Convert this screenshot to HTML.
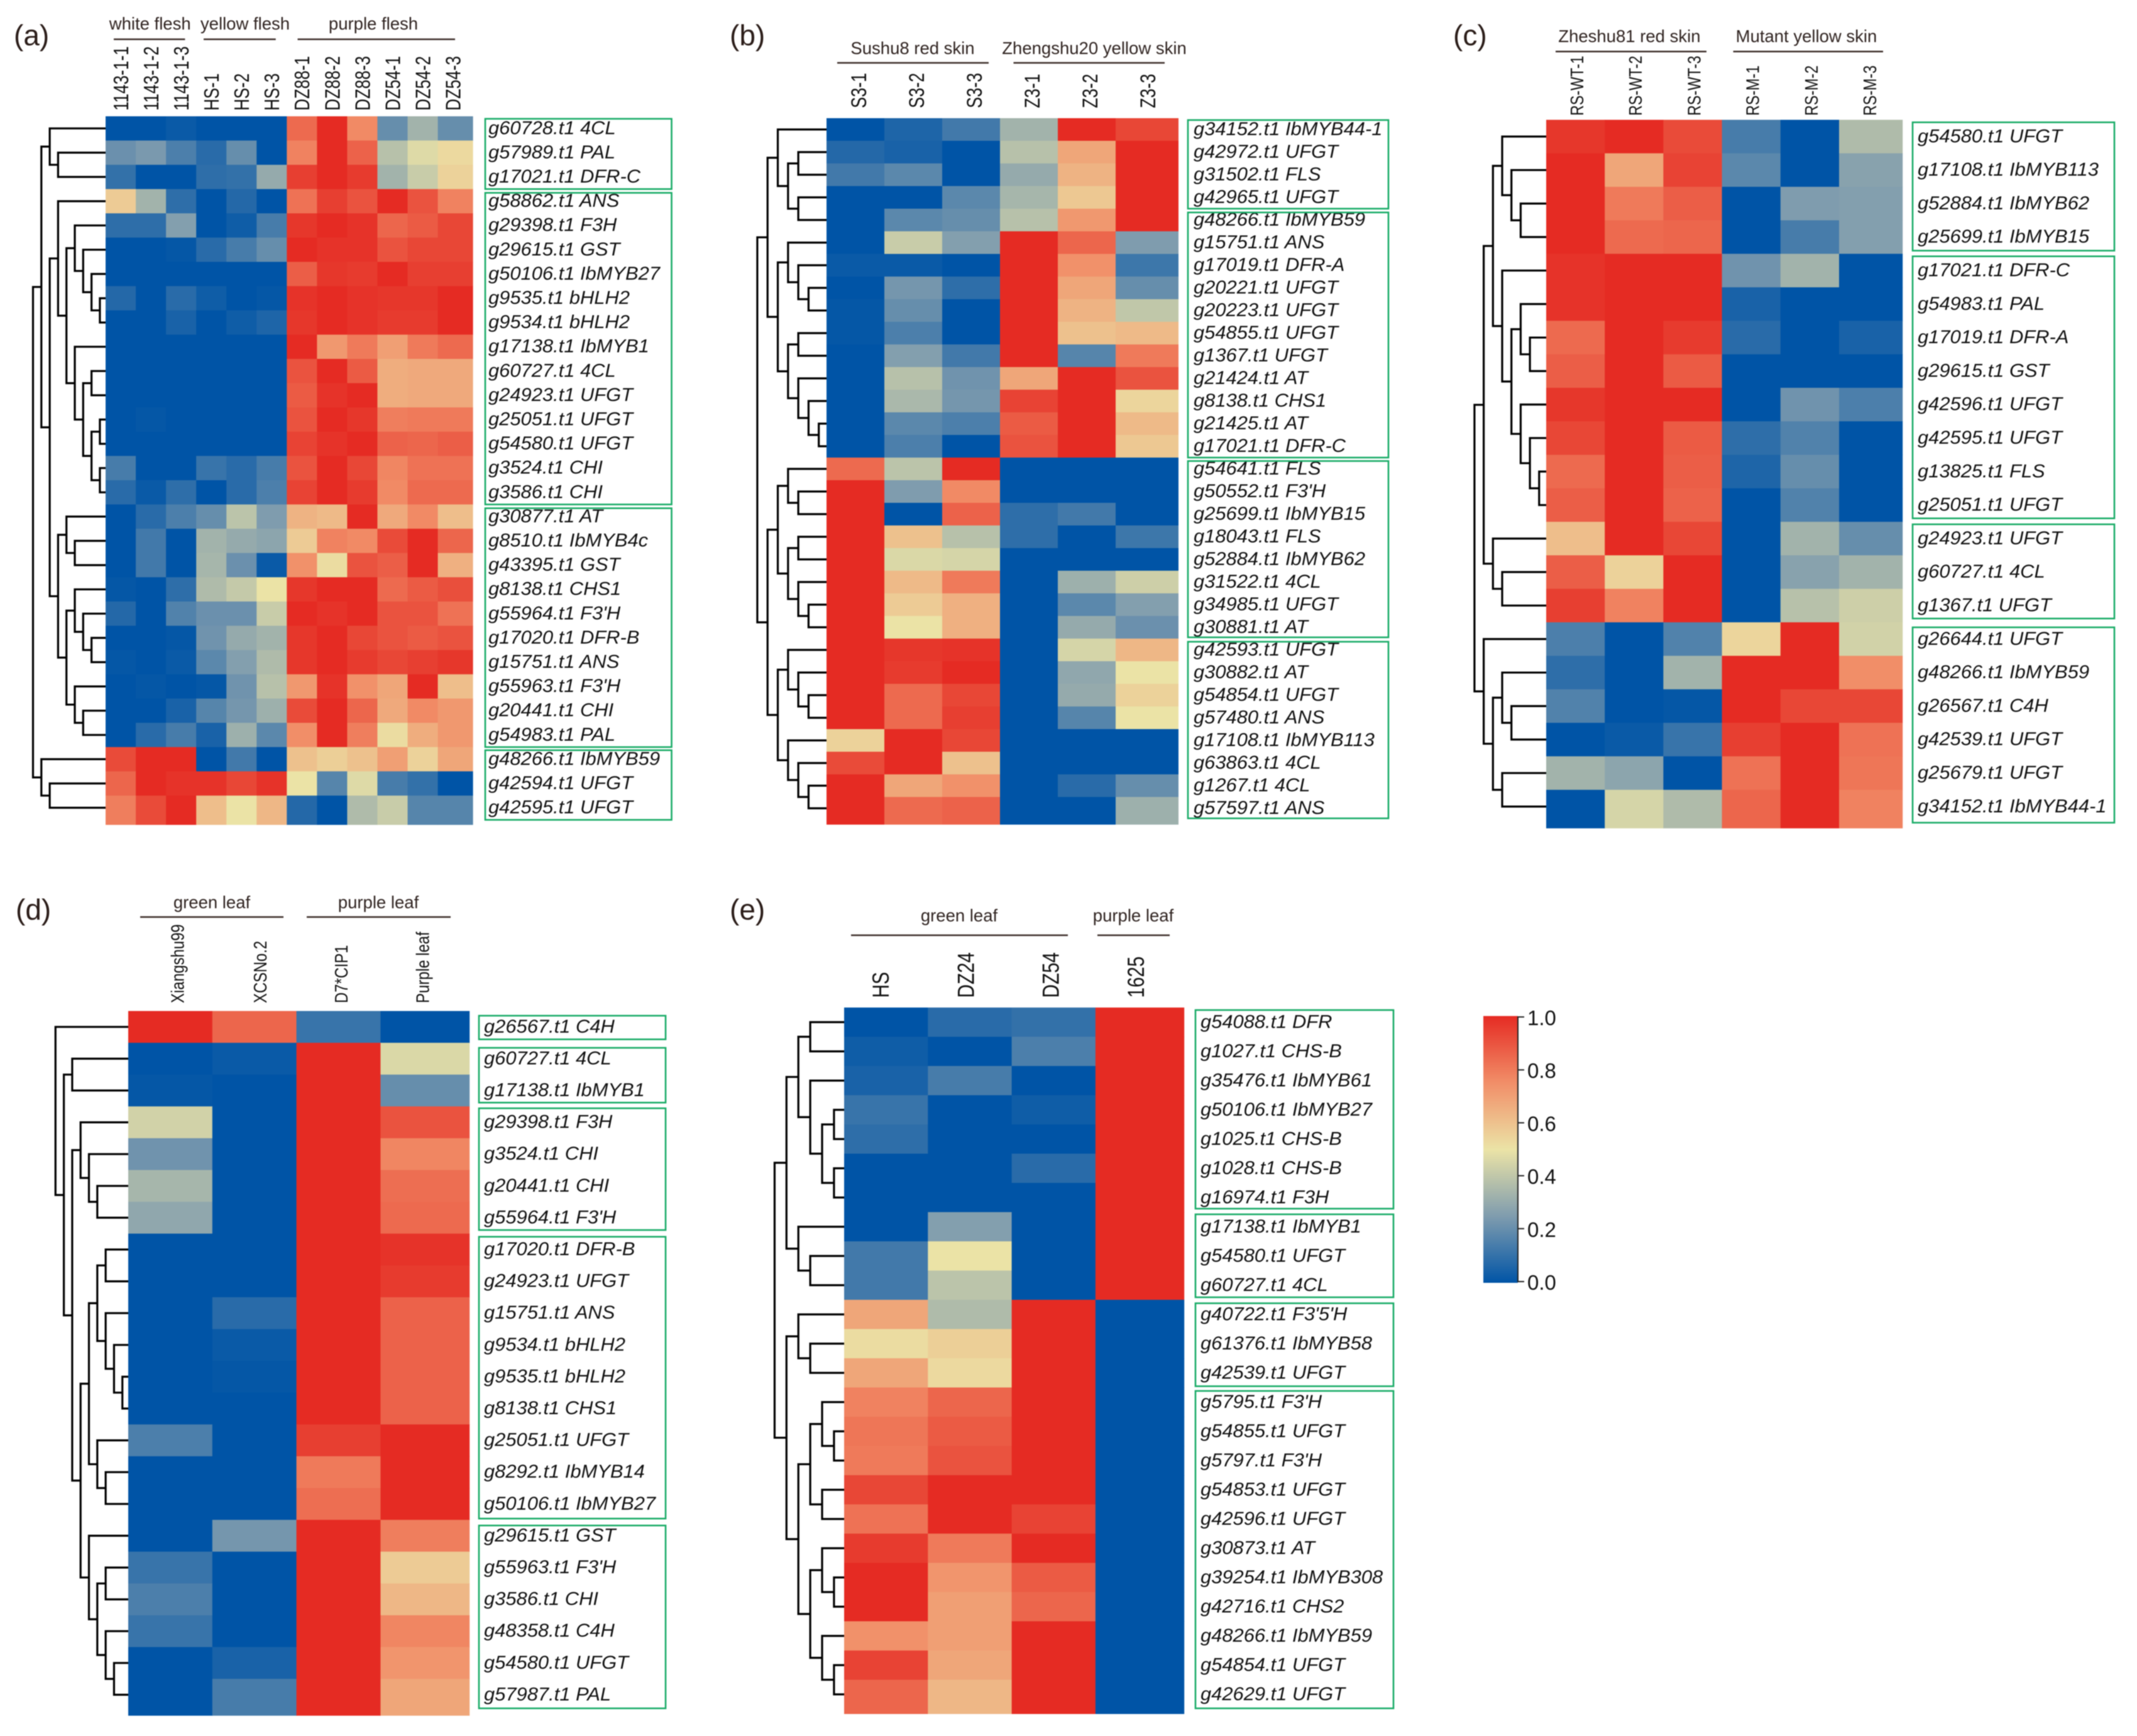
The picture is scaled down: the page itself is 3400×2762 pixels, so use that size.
<!DOCTYPE html>
<html lang="en">
<head>
<meta charset="utf-8">
<title>Anthocyanin gene expression heatmaps</title>
<style>
html,body{margin:0;padding:0;background:#fff;}
#figure{display:block;width:3400px;height:2762px;font-family:"Liberation Sans",sans-serif;filter:blur(.7px);}
</style>
</head>
<body>
<svg id="figure" xmlns="http://www.w3.org/2000/svg" width="3400" height="2762" viewBox="0 0 3400 2762">
<rect x="0" y="0" width="3400" height="2762" fill="#fff"/>
<defs>
<linearGradient id="legendGradient" x1="0" y1="1" x2="0" y2="0"></linearGradient>
</defs>
</svg>
<script>
/* ---------- Panel (a) data ---------- */
const aSamples = ['1143-1-1','1143-1-2','1143-1-3','HS-1','HS-2','HS-3','DZ88-1','DZ88-2','DZ88-3','DZ54-1','DZ54-2','DZ54-3'];
const aGroups = ['white flesh','yellow flesh','purple flesh'];
const aGenes = ['g60728.t1 4CL','g57989.t1 PAL','g17021.t1 DFR-C','g58862.t1 ANS','g29398.t1 F3H','g29615.t1 GST','g50106.t1 IbMYB27','g9535.t1 bHLH2','g9534.t1 bHLH2','g17138.t1 IbMYB1','g60727.t1 4CL','g24923.t1 UFGT','g25051.t1 UFGT','g54580.t1 UFGT','g3524.t1 CHI','g3586.t1 CHI','g30877.t1 AT','g8510.t1 IbMYB4c','g43395.t1 GST','g8138.t1 CHS1','g55964.t1 F3\'H','g17020.t1 DFR-B','g15751.t1 ANS','g55963.t1 F3\'H','g20441.t1 CHI','g54983.t1 PAL','g48266.t1 IbMYB59','g42594.t1 UFGT','g42595.t1 UFGT'];
const aValues = [
[0,0,.02,0,0,0,.84,1,.76,.2,.33,.2],
[.21,.24,.15,.08,.2,0,.78,1,.86,.38,.47,.53],
[.1,0,0,.09,.1,.3,.95,1,.96,.33,.42,.55],
[.57,.33,.09,0,.07,0,.82,.95,.9,1,.9,.78],
[.09,.09,.26,0,.03,.14,.97,1,.98,.85,.88,.93],
[0,0,.01,.08,.14,.2,1,.98,.98,.9,.93,.93],
[0,0,0,0,0,0,.87,.97,.96,1,.95,.95],
[.07,0,.08,.03,0,.01,.98,1,.98,.97,.97,1],
[0,0,.05,0,.03,.06,.97,1,.98,.96,.96,1],
[0,0,0,0,0,0,1,.72,.8,.7,.8,.84],
[0,0,0,0,0,0,.9,1,.88,.66,.67,.67],
[0,0,0,0,0,0,.88,.98,1,.66,.67,.67],
[0,.01,0,0,0,0,.9,1,.97,.79,.8,.8],
[0,0,0,0,0,0,.94,.98,1,.86,.85,.87],
[.14,0,0,.11,.08,.14,.9,1,.93,.77,.82,.82],
[.08,.02,.09,0,.08,.15,.94,1,.96,.76,.84,.84],
[0,.08,.15,.2,.39,.25,.64,.62,1,.67,.76,.61],
[0,.13,0,.33,.3,.28,.57,.78,.76,.92,1,.85],
[0,.13,0,.34,.21,.02,.74,.52,.9,.87,1,.65],
[.01,0,.09,.36,.41,.5,.97,1,1,.84,.88,.91],
[.07,0,.16,.21,.21,.42,1,.98,1,.9,.9,.82],
[0,0,.01,.22,.3,.33,.97,1,.93,.9,.88,.9],
[.01,0,.02,.18,.26,.36,.97,1,.96,.93,.95,.97],
[0,.01,0,.01,.22,.38,.72,.98,.74,.68,1,.61],
[0,0,.05,.17,.23,.32,.92,1,.85,.67,.76,.72],
[0,.08,.14,.05,.32,.18,.75,1,.79,.52,.66,.72],
[.92,1,1,0,.13,0,.6,.56,.6,.7,.55,.68],
[.85,1,.98,.98,.93,.98,.5,.17,.47,.14,.1,0],
[.79,.92,1,.61,.5,.63,.07,0,.36,.42,.17,.17]
];
const aTree = [9,
 [8,
  [7,1,[6,2,3]],
  [7,
   [6,4,[5,
     [4,5,[3,6,[2,7,[1,8,9]]]],
     [4,10,[3,[2,11,12],[2,[1,13,14],[1,15,16]]]]]],
   [6,
     [5,17,[4,18,19]],
     [5,[4,20,[3,21,[2,22,23]]],[4,24,[3,25,26]]]]]],
 [8,27,[7,28,29]]];
const aBoxes = [[0,3],[3,16],[16,26],[26,29]];

/* ---------- Panel (b) data ---------- */
const bSamples = ['S3-1','S3-2','S3-3','Z3-1','Z3-2','Z3-3'];
const bGroups = ['Sushu8 red skin','Zhengshu20 yellow skin'];
const bGenes = ['g34152.t1 IbMYB44-1','g42972.t1 UFGT','g31502.t1 FLS','g42965.t1 UFGT','g48266.t1 IbMYB59','g15751.t1 ANS','g17019.t1 DFR-A','g20221.t1 UFGT','g20223.t1 UFGT','g54855.t1 UFGT','g1367.t1 UFGT','g21424.t1 AT','g8138.t1 CHS1','g21425.t1 AT','g17021.t1 DFR-C','g54641.t1 FLS','g50552.t1 F3\'H','g25699.t1 IbMYB15','g18043.t1 FLS','g52884.t1 IbMYB62','g31522.t1 4CL','g34985.t1 UFGT','g30881.t1 AT','g42593.t1 UFGT','g30882.t1 AT','g54854.t1 UFGT','g57480.t1 ANS','g17108.t1 IbMYB113','g63863.t1 4CL','g1267.t1 4CL','g57597.t1 ANS'];
const bValues = [
[0,.06,.13,.33,1,.93],
[.07,.05,0,.38,.68,1],
[.13,.18,0,.3,.64,1],
[0,0,.18,.34,.58,1],
[0,.18,.2,.38,.72,1],
[0,.42,.26,1,.85,.25],
[.02,.02,0,1,.74,.12],
[0,.23,.09,1,.68,.2],
[.01,.2,0,1,.64,.4],
[.01,.15,0,1,.6,.62],
[0,.26,.13,1,.17,.8],
[0,.38,.22,.68,1,.9],
[0,.35,.23,.94,1,.54],
[0,.18,.15,.88,1,.62],
[0,.15,0,.9,1,.58],
[.84,.39,1,0,0,0],
[1,.25,.76,0,0,0],
[1,0,.86,.09,.13,0],
[1,.6,.38,.09,0,.12],
[1,.46,.45,0,0,0],
[1,.62,.8,0,.32,.43],
[1,.57,.65,0,.18,.26],
[1,.5,.65,0,.3,.21],
[1,.97,.98,0,.45,.63],
[1,.96,1,0,.29,.5],
[1,.84,.93,0,.3,.55],
[1,.84,.95,0,.17,.5],
[.55,1,.93,0,0,0],
[.92,1,.6,0,0,0],
[1,.68,.74,0,.08,.2],
[1,.84,.86,0,0,.32]
];
const bTree = [7,
 [6,
  [5,1,[4,[3,2,3],[3,4,5]]],
  [5,
   [4,6,[3,7,[2,8,9]]],
   [4,[3,10,11],[3,12,[2,13,[1,14,15]]]]]],
 [6,
  [5,
   [4,16,[3,17,18]],
   [4,[3,19,20],[3,21,[2,22,23]]]],
  [5,
   [4,24,[3,25,[2,26,27]]],
   [4,28,[3,29,[2,30,31]]]]]];
const bBoxes = [[0,4],[4,15],[15,23],[23,31]];

/* ---------- Panel (c) data ---------- */
const cSamples = ['RS-WT-1','RS-WT-2','RS-WT-3','RS-M-1','RS-M-2','RS-M-3'];
const cGroups = ['Zheshu81 red skin','Mutant yellow skin'];
const cGenes = ['g54580.t1 UFGT','g17108.t1 IbMYB113','g52884.t1 IbMYB62','g25699.t1 IbMYB15','g17021.t1 DFR-C','g54983.t1 PAL','g17019.t1 DFR-A','g29615.t1 GST','g42596.t1 UFGT','g42595.t1 UFGT','g13825.t1 FLS','g25051.t1 UFGT','g24923.t1 UFGT','g60727.t1 4CL','g1367.t1 UFGT','g26644.t1 UFGT','g48266.t1 IbMYB59','g26567.t1 C4H','g42539.t1 UFGT','g25679.t1 UFGT','g34152.t1 IbMYB44-1'];
const cValues = [
[.97,1,.92,.14,0,.36],
[1,.68,.94,.18,0,.27],
[1,.8,.87,0,.25,.26],
[1,.84,.85,0,.14,.26],
[.98,1,1,.22,.33,0],
[.98,1,1,.05,0,0],
[.84,1,.96,.08,0,.05],
[.87,1,.88,0,0,0],
[.97,1,1,0,.22,.15],
[.93,1,.88,.09,.16,0],
[.84,1,.87,.06,.2,0],
[.87,1,.86,0,.16,0],
[.61,1,.93,0,.33,.2],
[.87,.55,1,0,.27,.33],
[.95,.78,1,0,.38,.43],
[.15,0,.16,.54,1,.44],
[.09,0,.33,1,1,.75],
[.16,0,.01,1,.93,.93],
[0,.02,.11,.95,1,.82],
[.33,.28,0,.82,1,.81],
[0,.45,.36,.85,1,.78]
];
const cTree = [8,
 [7,
  [6,
   [5,1,[4,2,[3,3,4]]],
   [5,5,[4,[3,6,[2,7,8]],[3,9,[2,10,[1,11,12]]]]]],
  [6,13,[5,14,15]]],
 [7,16,
  [6,[5,17,[4,18,19]],[5,20,21]]]];
const cBoxes = [[0,4],[4,12],[12,15],[15,21]];

/* ---------- Panel (d) data ---------- */
const dSamples = ['Xiangshu99','XCSNo.2','D7*CIP1','Purple leaf'];
const dGroups = ['green leaf','purple leaf'];
const dGenes = ['g26567.t1 C4H','g60727.t1 4CL','g17138.t1 IbMYB1','g29398.t1 F3H','g3524.t1 CHI','g20441.t1 CHI','g55964.t1 F3\'H','g17020.t1 DFR-B','g24923.t1 UFGT','g15751.t1 ANS','g9534.t1 bHLH2','g9535.t1 bHLH2','g8138.t1 CHS1','g25051.t1 UFGT','g8292.t1 IbMYB14','g50106.t1 IbMYB27','g29615.t1 GST','g55963.t1 F3\'H','g3586.t1 CHI','g48358.t1 C4H','g54580.t1 UFGT','g57987.t1 PAL'];
const dValues = [
[1,.85,.11,0],
[0,.02,1,.46],
[.01,0,1,.2],
[.44,0,1,.9],
[.22,0,1,.77],
[.34,0,1,.83],
[.29,0,1,.84],
[0,0,1,.98],
[0,0,1,.96],
[0,.08,1,.86],
[0,.02,1,.86],
[0,.01,1,.86],
[0,0,1,.86],
[.15,0,.95,1],
[0,0,.8,1],
[0,0,.83,1],
[0,.23,1,.79],
[.11,0,1,.57],
[.15,0,1,.63],
[.11,0,1,.77],
[0,.05,1,.73],
[0,.14,1,.68]
];
const dTree = [9,1,
 [8,
  [7,2,3],
  [7,
   [6,4,[5,5,[4,6,7]]],
   [6,
    [5,
     [4,[3,8,9],[3,10,[2,11,[1,12,13]]]],
     [4,14,[3,15,16]]],
    [5,17,[4,[3,18,19],[3,20,[2,21,22]]]]]]]];
const dBoxes = [[0,1],[1,3],[3,7],[7,16],[16,22]];

/* ---------- Panel (e) data ---------- */
const eSamples = ['HS','DZ24','DZ54','1625'];
const eGroups = ['green leaf','purple leaf'];
const eGenes = ['g54088.t1 DFR','g1027.t1 CHS-B','g35476.t1 IbMYB61','g50106.t1 IbMYB27','g1025.t1 CHS-B','g1028.t1 CHS-B','g16974.t1 F3H','g17138.t1 IbMYB1','g54580.t1 UFGT','g60727.t1 4CL','g40722.t1 F3\'5\'H','g61376.t1 IbMYB58','g42539.t1 UFGT','g5795.t1 F3\'H','g54855.t1 UFGT','g5797.t1 F3\'H','g54853.t1 UFGT','g42596.t1 UFGT','g30873.t1 AT','g39254.t1 IbMYB308','g42716.t1 CHS2','g48266.t1 IbMYB59','g54854.t1 UFGT','g42629.t1 UFGT'];
const eValues = [
[0,.08,.1,1],
[.03,0,.15,1],
[.05,.14,0,1],
[.11,0,.03,1],
[.09,0,0,1],
[0,0,.08,1],
[0,0,0,1],
[0,.26,0,1],
[.13,.5,0,1],
[.13,.39,0,1],
[.68,.36,1,0],
[.52,.56,1,0],
[.68,.53,1,0],
[.78,.85,1,0],
[.81,.88,1,0],
[.8,.9,1,0],
[.93,1,1,0],
[.82,1,.94,0],
[.96,.8,1,0],
[1,.73,.88,0],
[1,.7,.85,0],
[.74,.7,1,0],
[.94,.68,1,0],
[.85,.63,1,0]
];
const eTree = [6,
 [5,
  [4,[3,1,2],[3,3,[2,[1,4,5],[1,6,7]]]],
  [4,8,[3,9,10]]],
 [5,
  [4,11,[3,12,13]],
  [4,
   [3,[2,14,[1,15,16]],[2,17,18]],
   [3,[2,19,[1,20,21]],[2,22,[1,23,24]]]]]];
const eBoxes = [[0,7],[7,10],[10,13],[13,24]];

/* ---------- Legend data ---------- */
const legendTicks = [0,.2,.4,.6,.8,1];
const legendTickLabels = ['0.0','0.2','0.4','0.6','0.8','1.0'];
const colorDomain = [0,.25,.5,.75,1];
const colorRange = ['#0054a6','#7f9cae','#ebe3a6','#f18e68','#e52b23'];

/* ---------- Panel assembly ---------- */
const panels = [
 {id:'a',letter:'(a)',letterX:22,letterY:72,samples:aSamples,groups:aGroups,genes:aGenes,values:aValues,tree:aTree,boxes:aBoxes,
  layout:{left:168,top:185,cw:48.05,ch:38.6,step:13.3,off:4.2,labelX:777,boxL:772,boxR:1068.5,colBottom:176,colFont:33,colScale:.79,colDx:[0,0,0,0,0,0,0,0,0,0,0,0],
   groupBase:47,groupLineY:62.5,groupCx:[238.7,390,594],groupX1:[181,324,473.5],groupX2:[294.4,438.7,724],
   padTop:[4,6,6,5],padBottom:[0,0,0,0]}},
 {id:'b',letter:'(b)',letterX:1161,letterY:72,samples:bSamples,groups:bGroups,genes:bGenes,values:bValues,tree:bTree,boxes:bBoxes,
  layout:{left:1315,top:188,cw:92,ch:36,step:16.3,off:4,labelX:1899,boxL:1890,boxR:2209,colBottom:172,colFont:34,colScale:.78,colDx:[5,5,5,5,5,5],
   groupBase:86,groupLineY:100,groupCx:[1452,1741],groupX1:[1332,1612.5],groupX2:[1573,1853],
   padTop:[3,6,5.5,5],padBottom:[0,0,2,2]}},
 {id:'c',letter:'(c)',letterX:2312,letterY:72,samples:cSamples,groups:cGroups,genes:cGenes,values:cValues,tree:cTree,boxes:cBoxes,
  layout:{left:2460,top:190.6,cw:93.2,ch:53.3,step:14.7,off:3.5,labelX:3051,boxL:3043,boxR:3364,colBottom:184,colFont:29,colScale:.8,colDx:[2,2,2,2,2,2],
   groupBase:67,groupLineY:82,groupCx:[2592.4,2874],groupX1:[2475,2757.6],groupX2:[2715,2996],
   padTop:[4,4,4,8],padBottom:[5,5.5,6,1]}},
 {id:'d',letter:'(d)',letterX:25,letterY:1463,samples:dSamples,groups:dGroups,genes:dGenes,values:dValues,tree:dTree,boxes:dBoxes,
  layout:{left:204,top:1608.5,cw:133.8,ch:50.6,step:13.3,off:4,labelX:770,boxL:762,boxR:1059,colBottom:1596,colFont:29,colScale:.82,colDx:[11,9,4,0],
   groupBase:1445,groupLineY:1459,groupCx:[337,602],groupX1:[223,488],groupX2:[451,717],
   padTop:[7.5,8,3,5,9],padBottom:[5.5,6,5.7,2,3.7]}},
 {id:'e',letter:'(e)',letterX:1161,letterY:1463,samples:eSamples,groups:eGroups,genes:eGenes,values:eValues,tree:eTree,boxes:eBoxes,
  layout:{left:1343,top:1603,cw:133.3,ch:46.5,step:18.9,off:2.8,labelX:1910,boxL:1902,boxR:2217,colBottom:1587.5,colFont:37,colScale:.8,colDx:[-9,-7,-5,-3],
   groupBase:1466,groupLineY:1488,groupCx:[1526,1803],groupX1:[1354,1746],groupX2:[1699,1861],
   padTop:[4,3.5,5.5,5.5],padBottom:[5.5,4,2,1]}}
];

const NS = 'http://www.w3.org/2000/svg';
const svg = document.getElementById('figure');
const EXTRA = 8;

function make(tag, parent){
  const el = document.createElementNS(NS, tag);
  parent.appendChild(el);
  return el;
}
function hexToRgb(h){
  return [parseInt(h.slice(1,3),16),parseInt(h.slice(3,5),16),parseInt(h.slice(5,7),16)];
}
function colorScale(v){
  const t = Math.max(0,Math.min(1,v));
  let i = 0;
  while(i < colorDomain.length-2 && t > colorDomain[i+1]) i++;
  const f = (t-colorDomain[i])/(colorDomain[i+1]-colorDomain[i]);
  const a = hexToRgb(colorRange[i]), b = hexToRgb(colorRange[i+1]);
  const c = a.map((x,k)=>Math.round(x+(b[k]-x)*f));
  return 'rgb('+c.join(',')+')';
}

function drawPanel(p){
  const L = p.layout;
  const nRows = p.genes.length, nCols = p.samples.length;
  const colX = i => L.left + i*L.cw;
  const rowY = j => L.top + j*L.ch;
  const rowCenter = j => rowY(j) + L.ch/2;
  const distX = d => L.left - (d*L.step - L.off);

  const g = make('g', svg);
  
  

  const letter = make('text', g);
  
  
  letter.setAttribute('x', p.letterX);
  letter.setAttribute('y', p.letterY);
  letter.setAttribute('font-size', 46);
  letter.setAttribute('fill', '#2a1c18');
  letter.textContent = p.letter;

  /* heatmap cells */
  p.values.forEach((row,j)=>{
    row.forEach((v,i)=>{
      const r = make('rect', g);
      
      
      r.setAttribute('x', colX(i));
      r.setAttribute('y', rowY(j));
      r.setAttribute('width', L.cw + (i===nCols-1?EXTRA:0) + (i===nCols-1?0:.6));
      r.setAttribute('height', L.ch + (j===nRows-1?EXTRA:0) + (j===nRows-1?0:.6));
      r.setAttribute('fill', colorScale(v));
    });
  });

  /* dendrogram */
  function walk(node){
    if(typeof node === 'number'){
      return {x:L.left, y:rowCenter(node-1)};
    }
    const a = walk(node[1]), b = walk(node[2]);
    const x = distX(node[0]);
    const path = make('path', g);
    
    
    path.setAttribute('d','M'+a.x+' '+a.y+'H'+x+'V'+b.y+'H'+b.x);
    path.setAttribute('fill','none');
    path.setAttribute('stroke','#000');
    path.setAttribute('stroke-width','3.2');
    return {x:x, y:(a.y+b.y)/2};
  }
  walk(p.tree);

  /* sample labels */
  p.samples.forEach((s,i)=>{
    const t = make('text', g);
    
    
    const cx = colX(i)+L.cw/2+L.colDx[i]+L.colFont*.36;
    t.setAttribute('transform','translate('+cx+' '+L.colBottom+') rotate(-90) scale('+L.colScale+' 1)');
    t.setAttribute('font-size', L.colFont);
    t.setAttribute('fill', '#111');
    t.textContent = s;
  });

  /* group headers */
  p.groups.forEach((name,i)=>{
    const t = make('text', g);
    
    
    t.setAttribute('x', L.groupCx[i]);
    t.setAttribute('y', L.groupBase);
    t.setAttribute('text-anchor','middle');
    t.setAttribute('font-size', 27.5);
    t.setAttribute('fill', '#2f2320');
    t.textContent = name;
    const line = make('line', g);
    
    
    line.setAttribute('x1', L.groupX1[i]);
    line.setAttribute('x2', L.groupX2[i]);
    line.setAttribute('y1', L.groupLineY);
    line.setAttribute('y2', L.groupLineY);
    line.setAttribute('stroke', '#3a2a26');
    line.setAttribute('stroke-width', '2.4');
  });

  /* gene labels */
  p.genes.forEach((name,j)=>{
    const t = make('text', g);
    
    
    t.setAttribute('transform','translate('+L.labelX+' '+(rowCenter(j)+9)+') scale(1.03 1)');
    t.setAttribute('font-size', 30);
    t.setAttribute('font-style', 'italic');
    t.setAttribute('fill', '#111');
    t.textContent = name;
  });

  /* green cluster boxes */
  p.boxes.forEach((span,k)=>{
    const r = make('rect', g);
    
    
    const y0 = rowY(span[0])+L.padTop[k];
    const y1 = rowY(span[1])-L.padBottom[k];
    r.setAttribute('x', L.boxL);
    r.setAttribute('y', y0);
    r.setAttribute('width', L.boxR-L.boxL);
    r.setAttribute('height', y1-y0);
    r.setAttribute('fill', 'none');
    r.setAttribute('stroke', '#18ab66');
    r.setAttribute('stroke-width', '2.6');
  });
}
panels.forEach(drawPanel);

/* ---------- Colour legend ---------- */
const grad = document.getElementById('legendGradient');
colorDomain.forEach((d,i)=>{
  const s = document.createElementNS(NS,'stop');
  s.setAttribute('offset', d);
  s.setAttribute('stop-color', colorRange[i]);
  grad.appendChild(s);
});
const legend = make('g', svg);


const LEG = {x:2360,w:55,top:1616.5,bottom:2041,axisTop:1618,axisBottom:2039,labelX:2430};
const legendY = v => LEG.axisBottom - v*(LEG.axisBottom-LEG.axisTop);
const bar = make('rect', legend);


bar.setAttribute('x', LEG.x);
bar.setAttribute('y', LEG.top);
bar.setAttribute('width', LEG.w);
bar.setAttribute('height', LEG.bottom-LEG.top);
bar.setAttribute('fill', 'url(#legendGradient)');
const axisLine = make('line', legend);


axisLine.setAttribute('x1', LEG.x+LEG.w);
axisLine.setAttribute('x2', LEG.x+LEG.w);
axisLine.setAttribute('y1', LEG.axisTop-1);
axisLine.setAttribute('y2', LEG.axisBottom+1);
axisLine.setAttribute('stroke', '#222');
axisLine.setAttribute('stroke-width', '2');
legendTicks.forEach((v,i)=>{
  const tick = make('line', legend);
  
  
  tick.setAttribute('x1', LEG.x+LEG.w);
  tick.setAttribute('x2', LEG.x+LEG.w+10);
  tick.setAttribute('y1', legendY(v));
  tick.setAttribute('y2', legendY(v));
  tick.setAttribute('stroke', '#222');
  tick.setAttribute('stroke-width', '2');
  const label = make('text', legend);
  
  
  label.setAttribute('x', LEG.labelX);
  label.setAttribute('y', legendY(v)+13);
  label.setAttribute('font-size', 33);
  label.setAttribute('fill', '#111');
  label.textContent = legendTickLabels[i];
});
</script>
</body>
</html>
